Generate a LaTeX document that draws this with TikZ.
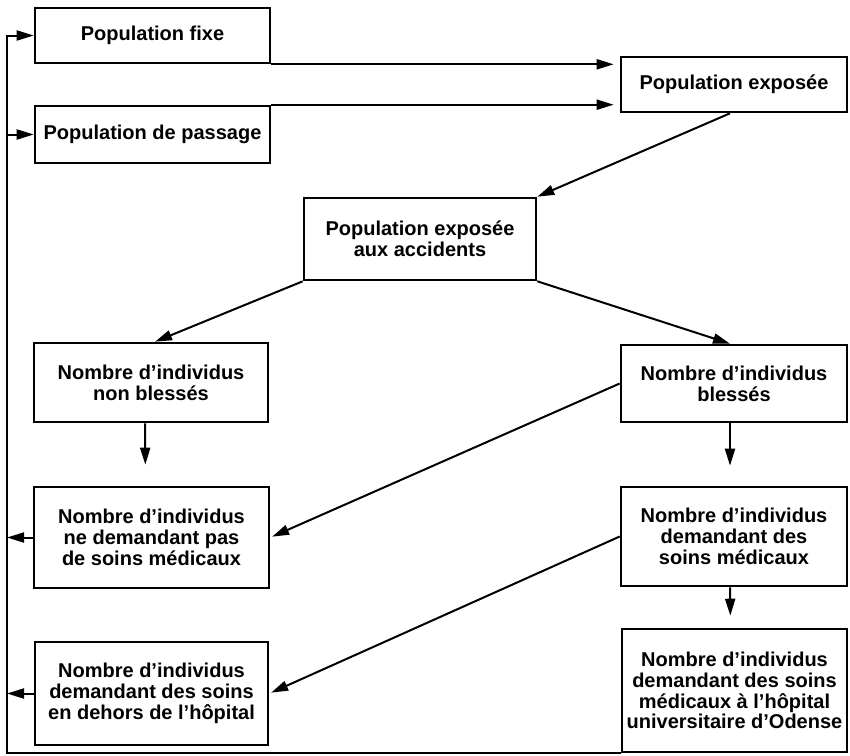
\documentclass[tikz,border=0pt]{standalone}
\usepackage{fontspec}
\setmainfont{Liberation Sans}
\usetikzlibrary{arrows.meta}

\begin{document}
\begin{tikzpicture}[x=0.5pt,y=0.5pt]
            \tikzstyle{every node}+=[inner sep=0pt]
            \tikzstyle{boite}=[draw=black,line width=1.3pt,align=center,font=\fontsize{10}{10.4}\selectfont\bfseries]
            \tikzstyle{fleche}=[black,line width=1pt,-{Triangle[length=8.5pt,width=5pt]}]
            \useasboundingbox (0,0) rectangle (850,-755);
            \node [boite,minimum width=117.5pt,minimum height=27.5pt] (fixe) at (152.5,-35.5) {Population fixe};
            \node [boite,minimum width=117.5pt,minimum height=28.5pt] (passage) at (152.5,-134.5) {Population de passage};
            \node [boite,minimum width=113pt,minimum height=27.5pt] (expo) at (734,-84.5) {Population exposée};
            \node [boite,minimum width=116pt,minimum height=41pt] (accid) at (420,-239) {Population exposée\\aux accidents};
            \node [boite,minimum width=117pt,minimum height=39.5pt] (nonbl) at (151,-382.5) {Nombre d’individus\\non blessés};
            \node [boite,minimum width=113pt,minimum height=38.5pt] (bless) at (734,-383.5) {Nombre d’individus\\blessés};
            \node [boite,minimum width=117.5pt,minimum height=50.5pt] (nesoins) at (151.5,-537.5) {Nombre d’individus\\ne demandant pas\\de soins médicaux};
            \node [boite,minimum width=113pt,minimum height=49.5pt] (soins) at (734,-536.5) {Nombre d’individus\\demandant des\\soins médicaux};
            \node [boite,minimum width=116.5pt,minimum height=51.5pt] (dehors) at (151.5,-693.5) {Nombre d’individus\\demandant des soins\\en dehors de l’hôpital};
            \node [boite,minimum width=112.5pt,minimum height=61.5pt] (odense) at (734.5,-690.5) {Nombre d’individus\\demandant des soins\\médicaux à l’hôpital\\universitaire d’Odense};
            \coordinate (retour) at (7,-753);
            % entrees
            \draw [fleche,shorten >=3pt] (fixe.south east) -- (fixe.south east -| expo.west);
            \draw [fleche,shorten >=3pt] (passage.north east) -- (passage.north east -| expo.west);
            \draw [fleche] ([xshift=-2pt]expo.south) -- (accid.north east);
            \draw [fleche] (accid.south west) -- ([xshift=2pt]nonbl.north);
            \draw [fleche] (accid.south east) -- ([xshift=-2pt]bless.north);
            \draw [fleche,shorten >=10.5pt] ([xshift=-3pt]nonbl.south) -- ([xshift=-3pt]nesoins.north);
            \draw [fleche,shorten >=10pt] ([xshift=-2pt]bless.south) -- ([xshift=-2pt]soins.north);
            \draw [fleche,shorten >=6pt] ([xshift=-2pt]soins.south) -- ([xshift=-2pt]odense.north);
            \draw [fleche,shorten >=1pt] (bless.west) -- (nesoins.east);
            \draw [fleche,shorten >=1pt] (soins.west) -- (dehors.east);
            % retour
            \draw [fleche] (odense.south west) -| (retour) |- (fixe.west);
            \draw [fleche] (retour |- passage.west) -- (passage.west);
            \draw [fleche] (nesoins.west) -- (nesoins.west -| retour);
            \draw [fleche] (dehors.west) -- (dehors.west -| retour);
\end{tikzpicture}
\end{document}
